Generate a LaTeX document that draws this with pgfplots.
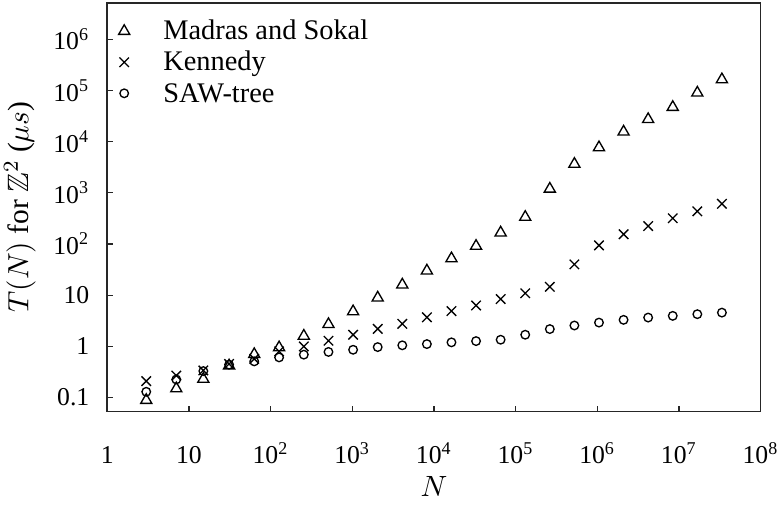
\documentclass[border=0pt]{standalone}
\usepackage{amssymb}
\usepackage{fontspec}
\setmainfont{Liberation Serif}
\usepackage{pgfplots}
\pgfplotsset{compat=1.18}
\newcommand\ls{\rule[-3.35pt]{0pt}{11.35pt}}
\begin{document}
\begin{tikzpicture}
\begin{axis}[
  scale only axis,
  width=244pt, height=152.5pt,
  xmode=log, ymode=log,
  xmin=1, xmax=1e8, ymin=0.054, ymax=5.1e6,
  xtick={1,10,100,1000,1e4,1e5,1e6,1e7,1e8},
  xticklabels={1,10,10\textsuperscript{2},10\textsuperscript{3},10\textsuperscript{4},10\textsuperscript{5},10\textsuperscript{6},10\textsuperscript{7},10\textsuperscript{8}},
  ytick={0.1,1,10,100,1000,1e4,1e5,1e6},
  yticklabels={0.1,1,10,10\textsuperscript{2},10\textsuperscript{3},10\textsuperscript{4},10\textsuperscript{5},10\textsuperscript{6}},
  xminorticks=false, yminorticks=false,
  tick pos=left,
  tick align=inside,
  major tick length=2pt,
  axis line style={black!85, line width=0.6pt},
  every tick/.style={black!85, line width=0.5pt},
  tick label style={font=\fontsize{9.6}{11.5}\selectfont},
  xticklabel style={anchor=base, inner sep=0pt, yshift=-19.6pt},
  yticklabel style={anchor=east, inner sep=0pt, xshift=-6.5pt},
  xlabel={$N$},
  ylabel={$T(N)$ for $\mathbb{Z}^2$ ($\mu s$)},
  label style={font=\fontsize{11}{13}\selectfont},
  xlabel style={at={(axis description cs:0.5,0)}, anchor=north, inner sep=0pt, yshift=-24.2pt, text depth=3pt},
  ylabel style={at={(axis description cs:-0.1086,0.5)}, anchor=south, inner sep=0pt},
  legend style={draw=none, fill=none, inner sep=0pt, outer sep=0pt, at={(0.0095,0.962)}, anchor=north west,
    font=\fontsize{10.6}{12.7}\selectfont, row sep=2.1pt, column sep=10.6pt, nodes={inner sep=0pt}},
  legend cell align=left,
  legend image code/.code={\draw[#1] plot coordinates {(0pt,0pt)}; \path[draw=none,fill=none] (-4pt,-4pt) rectangle (4pt,2pt);},
]
\addplot[only marks, mark=triangle, mark size=2.4pt, black, line width=0.5pt] coordinates {
(3,0.089) (7,0.15) (15,0.23) (31,0.42) (63,0.70) (127,0.95) (255,1.6) (511,2.7)
(1023,4.8) (2047,8.9) (4095,16) (8191,30) (16383,52) (32767,91) (65535,166)
(131071,335) (262143,1190) (524287,3640) (1048575,7670) (2097151,15500)
(4194303,27200) (8388607,47000) (16777215,89500) (33554431,163000)
};
\addlegendentry{\ls Madras and Sokal}
\addplot[only marks, mark=x, mark size=2.5pt, black, line width=0.5pt] coordinates {
(3,0.21) (7,0.27) (15,0.34) (31,0.455) (63,0.57) (127,0.80) (255,1.0) (511,1.29)
(1023,1.69) (2047,2.2) (4095,2.76) (8191,3.7) (16383,4.9) (32767,6.3) (65535,8.4)
(131071,10.9) (262143,14.6) (524287,40) (1048575,94) (2097151,155)
(4194303,224) (8388607,318) (16777215,435) (33554431,610)
};
\addlegendentry{\ls Kennedy}
\addplot[only marks, mark=o, mark size=1.6pt, black, line width=0.5pt] coordinates {
(3,0.13) (7,0.226) (15,0.33) (31,0.44) (63,0.51) (127,0.61) (255,0.69) (511,0.78)
(1023,0.86) (2047,0.97) (4095,1.05) (8191,1.11) (16383,1.2) (32767,1.27) (65535,1.35)
(131071,1.69) (262143,2.18) (524287,2.56) (1048575,2.92) (2097151,3.3)
(4194303,3.66) (8388607,3.95) (16777215,4.26) (33554431,4.57)
};
\addlegendentry{\ls SAW-tree}
\end{axis}
\path ([xshift=-1.5pt]current axis.outer west) ([yshift=1.1pt]current axis.north) ([xshift=0.5pt]current axis.outer east);
\end{tikzpicture}
\end{document}
